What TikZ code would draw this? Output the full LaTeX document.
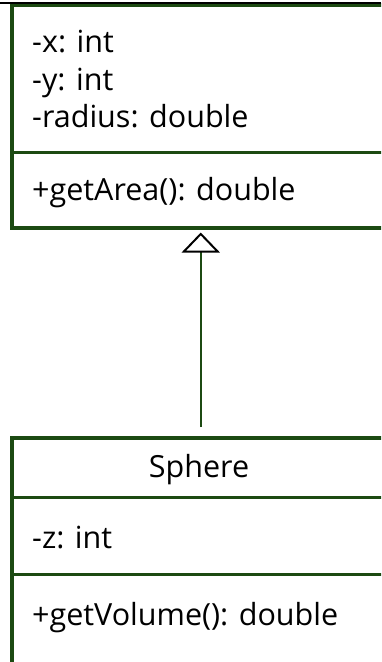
\documentclass[tikz,border=0pt]{standalone}
\usepackage{fontspec}
\setmainfont{Open Sans}
\usetikzlibrary{arrows.meta}
\definecolor{umlgreen}{RGB}{28,74,18}
\tikzset{
  classbox/.style={draw=umlgreen, line width=3.5pt, fill=white, rectangle, inner sep=0pt, anchor=north west, minimum width=378pt},
  sep/.style={draw=umlgreen, line width=3pt},
  lbl/.style={anchor=base west, inner sep=0pt, font=\fontsize{30.5}{36}\selectfont},
  clbl/.style={anchor=base, inner sep=0pt, font=\fontsize{30.5}{36}\selectfont},
  inherit/.style={draw=umlgreen, line width=1.6pt, -{Triangle[open, length=20pt, width=38pt, line width=2pt, color=black, fill=white]}},
}
\begin{document}
\begin{tikzpicture}[x=1pt, y=-1pt]
\useasboundingbox (0,0) rectangle (381,662);
\clip (0,0) rectangle (381,662);
% Shape (super class, clipped at top)
\node[classbox, minimum height=223pt] (shape) at (10,3) {};
\draw[sep] (shape.west |- 0,152) coordinate (s1) -- (shape.east |- 0,152) coordinate (s2);
\draw[black, line width=2pt] (0,3) coordinate (t1) -- (381,3) coordinate (t2);
\node[lbl] (sx) at (32,52) {-x: int};
\node[lbl] (sy) at (32,90) {-y: int};
\node[lbl] (sr) at (32,127) {-radius: double};
\node[lbl] (sa) at (32,200) {+getArea(): double};
% Sphere
\node[classbox, minimum height=300pt] (sphere) at (10,436) {};
\draw[sep] (sphere.west |- 0,497) coordinate (p1) -- (sphere.east |- 0,497) coordinate (p2);
\draw[sep] (sphere.west |- 0,574) coordinate (q1) -- (sphere.east |- 0,574) coordinate (q2);
\node[clbl] (sn) at (199,477) {Sphere};
\node[lbl] (sz) at (32,548) {-z: int};
\node[lbl] (sv) at (32,625) {+getVolume(): double};
% generalization
\draw[inherit, shorten <=9pt, shorten >=3pt] (sphere.north) -- (shape.south);
\end{tikzpicture}
\end{document}
